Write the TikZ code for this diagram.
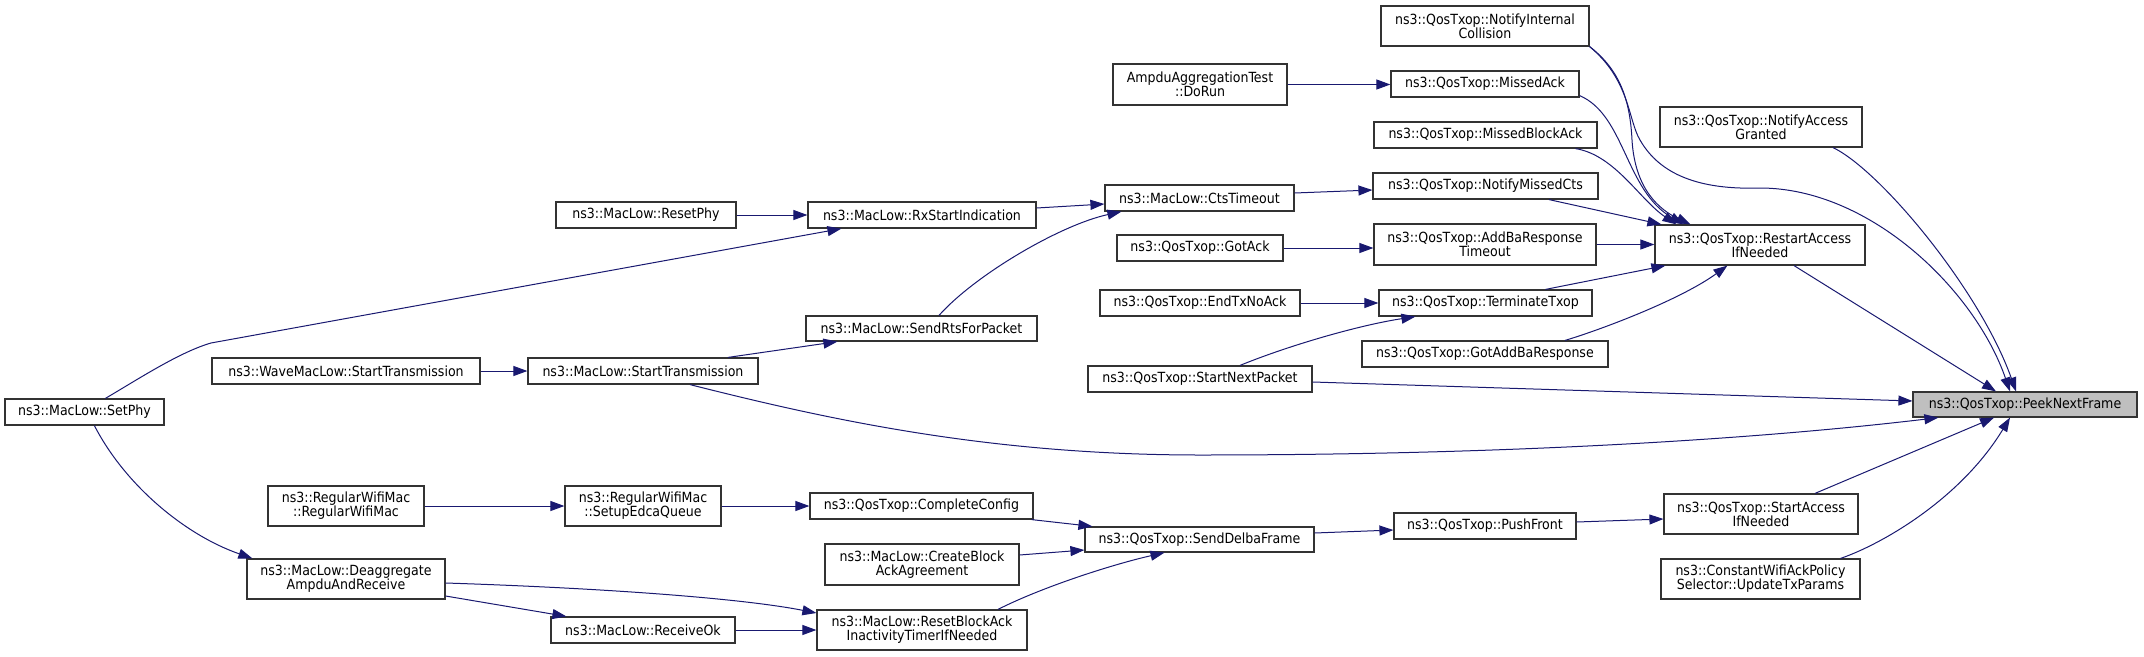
\documentclass[tikz,border=0pt]{standalone}
\usepackage{fontspec}
\setmainfont{DejaVu Sans Condensed}
\usetikzlibrary{arrows.meta}
\definecolor{edgec}{RGB}{25,25,112}
\definecolor{peekfill}{RGB}{191,191,191}
\tikzset{
  fn/.style={draw=black!80, line width=1.2pt, fill=white, inner sep=0pt, align=center,
    font=\fontsize{14}{14}\selectfont},
  ed/.style={draw=edgec, line width=1pt, -{Triangle[length=14pt,width=10pt]}}
}
\newcommand\bx[7][]{\node[fn,#1, minimum width={(#4-#3)*1pt}, minimum height={(#6-#5)*1pt}] (#2) at ({(#3+#4)/2},{(#5+#6)/2}) {#7};}
\begin{document}
\begin{tikzpicture}[x=1pt,y=-1pt]
\useasboundingbox (0,0) rectangle (2144,656);
% nodes
\bx{setphy}{5}{164}{399}{425}{ns3::MacLow::SetPhy}
\bx{resetphy}{556}{736}{202}{228}{ns3::MacLow::ResetPhy}
\bx{wavestart}{212}{480}{358}{384}{ns3::WaveMacLow::StartTransmission}
\bx{regwifi}{268}{424}{486}{526}{ns3::RegularWifiMac\\::RegularWifiMac}
\bx{deagg}{247}{445}{559}{599}{ns3::MacLow::Deaggregate\\AmpduAndReceive}
\bx{rxstart}{808}{1036}{202}{228}{ns3::MacLow::RxStartIndication}
\bx{starttx}{528}{758}{358}{384}{ns3::MacLow::StartTransmission}
\bx{setupedca}{565}{721}{486}{526}{ns3::RegularWifiMac\\::SetupEdcaQueue}
\bx{receiveok}{551}{735}{617}{643}{ns3::MacLow::ReceiveOk}
\bx{sendrts}{806}{1037}{316}{341}{ns3::MacLow::SendRtsForPacket}
\bx{complete}{810}{1033}{493}{519}{ns3::QosTxop::CompleteConfig}
\bx{createba}{825}{1019}{544}{585}{ns3::MacLow::CreateBlock\\AckAgreement}
\bx{resetba}{817}{1027}{610}{650}{ns3::MacLow::ResetBlockAck\\InactivityTimerIfNeeded}
\bx{dorun}{1113}{1287}{64}{105}{AmpduAggregationTest\\::DoRun}
\bx{cts}{1105}{1294}{185}{211}{ns3::MacLow::CtsTimeout}
\bx{gotack}{1117}{1283}{235}{261}{ns3::QosTxop::GotAck}
\bx{endtx}{1100}{1300}{290}{316}{ns3::QosTxop::EndTxNoAck}
\bx{startnext}{1088}{1312}{366}{392}{ns3::QosTxop::StartNextPacket}
\bx{senddelba}{1085}{1314}{527}{552}{ns3::QosTxop::SendDelbaFrame}
\bx{notifyint}{1381}{1589}{6}{46}{ns3::QosTxop::NotifyInternal\\Collision}
\bx{missedack}{1391}{1579}{71}{97}{ns3::QosTxop::MissedAck}
\bx{missedback}{1374}{1597}{122}{148}{ns3::QosTxop::MissedBlockAck}
\bx{missedcts}{1373}{1598}{173}{199}{ns3::QosTxop::NotifyMissedCts}
\bx{addba}{1374}{1596}{224}{265}{ns3::QosTxop::AddBaResponse\\Timeout}
\bx{terminate}{1379}{1592}{290}{316}{ns3::QosTxop::TerminateTxop}
\bx{gotaddba}{1362}{1608}{341}{367}{ns3::QosTxop::GotAddBaResponse}
\bx{pushfront}{1394}{1576}{513}{539}{ns3::QosTxop::PushFront}
\bx{granted}{1660}{1862}{107}{147}{ns3::QosTxop::NotifyAccess\\Granted}
\bx{restart}{1655}{1865}{225}{265}{ns3::QosTxop::RestartAccess\\IfNeeded}
\bx{startacc}{1664}{1858}{494}{534}{ns3::QosTxop::StartAccess\\IfNeeded}
\bx{constack}{1661}{1860}{559}{599}{ns3::ConstantWifiAckPolicy\\Selector::UpdateTxParams}
\bx[fill=peekfill]{peek}{1913}{2137}{392}{417}{ns3::QosTxop::PeekNextFrame}
% edges
\draw[ed] (resetphy.east) -- (rxstart.west);
\draw[ed] ([xshift=101pt]setphy.north west) .. controls (140,378) and (180,352) .. (211,343) -- ([xshift=34pt]rxstart.south west);
\draw[ed] ([xshift=90pt]setphy.south west) .. controls (125,485) and (185,535) .. ([xshift=6pt]deagg.north west);
\draw[ed] (wavestart.east) -- (starttx.west);
\draw[ed] ([yshift=7pt]rxstart.east) -- ([yshift=-6pt]cts.west);
\draw[ed] ([xshift=17.5pt]sendrts.north) .. controls (975,275) and (1060,225) .. ([xshift=17pt]cts.south west);
\draw[ed] ([xshift=85pt]starttx.north) -- ([xshift=32pt]sendrts.south west);
\draw[ed] ([xshift=47pt]starttx.south) .. controls (830,420) and (990,455) .. (1200,455) .. controls (1500,455) and (1750,440) .. ([xshift=26pt]peek.south west);
\draw[ed] (dorun.east) -- (dorun.east -| missedack.west);
\draw[ed] ([yshift=5pt]cts.east) -- ([yshift=-4pt]missedcts.west);
\draw[ed] (gotack.east) -- (gotack.east -| addba.west);
\draw[ed] (endtx.east) -- (endtx.east -| terminate.west);
\draw[ed] ([xshift=40pt]startnext.north) .. controls (1290,345) and (1360,325) .. ([xshift=37pt]terminate.south west);
\draw[ed] ([yshift=-3pt]startnext.east) -- ([yshift=3.5pt]peek.west);
\draw[ed] (notifyint.south east) .. controls (1620,70) and (1630,100) .. (1632,140) .. controls (1635,190) and (1660,210) .. ([xshift=36pt]restart.north west);
\draw[ed] (notifyint.south east) .. controls (1630,80) and (1628,120) .. (1640,140) .. controls (1660,175) and (1700,190) .. (1760,188) .. controls (1870,188) and (1975,290) .. ([xshift=-15pt]peek.north);
\draw[ed] ([yshift=2pt]missedack.south east) .. controls (1625,115) and (1625,190) .. ([xshift=29pt]restart.north west);
\draw[ed] ([xshift=90pt]missedback.south) .. controls (1615,155) and (1640,200) .. ([xshift=22pt]restart.north west);
\draw[ed] ([xshift=63.5pt]missedcts.south) -- ([xshift=7pt]restart.north west);
\draw[ed] (addba.east) -- (addba.east -| restart.west);
\draw[ed] ([xshift=60pt]terminate.north) -- ([xshift=11pt]restart.south west);
\draw[ed] ([xshift=80pt]gotaddba.north) .. controls (1600,330) and (1680,300) .. ([xshift=73pt]restart.south west);
\draw[ed] ([xshift=72pt]granted.south) .. controls (1880,170) and (1980,290) .. ([xshift=-9pt]peek.north);
\draw[ed] ([xshift=34pt]restart.south) -- ([xshift=-29pt]peek.north);
\draw[ed] ([xshift=54pt]startacc.north) -- ([xshift=-31pt]peek.south);
\draw[ed] ([xshift=80pt]constack.north) .. controls (1880,545) and (1960,500) .. ([xshift=-15pt]peek.south);
\draw[ed] ([yshift=4pt]pushfront.east) -- ([yshift=-5pt]startacc.west);
\draw[ed] ([yshift=6.5pt]senddelba.east) -- ([yshift=-4pt]pushfront.west);
\draw[ed] ([xshift=-2pt]complete.south east) -- ([xshift=8pt]senddelba.north west);
\draw[ed] ([yshift=9.5pt]createba.east) -- ([yshift=-10.5pt]senddelba.west);
\draw[ed] ([xshift=76pt]resetba.north) .. controls (1040,588) and (1110,565) .. ([xshift=-35pt]senddelba.south);
\draw[ed] (regwifi.east) -- (setupedca.west);
\draw[ed] (setupedca.east) -- (setupedca.east -| complete.west);
\draw[ed] ([yshift=-17pt]deagg.east) -- ([xshift=16pt]receiveok.north west);
\draw[ed] ([yshift=-4pt]deagg.east) .. controls (600,588) and (740,598) .. ([yshift=17pt]resetba.west);
\draw[ed] (receiveok.east) -- (resetba.west |- receiveok.east);
\end{tikzpicture}
\end{document}
